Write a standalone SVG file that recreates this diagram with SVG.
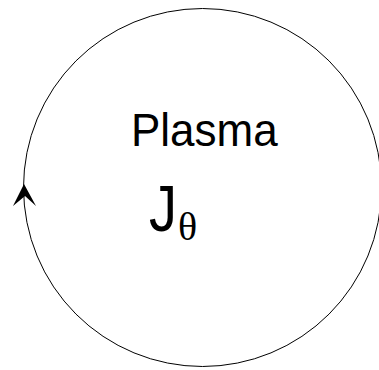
<svg xmlns="http://www.w3.org/2000/svg" width="379" height="370" viewBox="0 0 379 370">
<style>
.txt{font-family:"Liberation Sans",Arial,sans-serif;fill:#000}
.sym{font-family:"Liberation Serif","Times New Roman",serif;fill:#000}
</style>
<rect width="379" height="370" fill="#fff"/>
<g id="connectors">
<circle cx="202.5" cy="187.5" r="179" fill="none" stroke="#000" stroke-width="1"/>
<path d="M24,184 L36,206 L25,196 L13,206 Z" fill="#000"/>
</g>
<g id="plasma">
<text class="txt" x="131" y="146" font-size="44" transform="translate(0,146) scale(1,1.06) translate(0,-146)">Plasma</text>
</g>
<g id="current">
<text class="txt" x="149" y="231" font-size="56" transform="translate(0,231) scale(1,1.15) translate(0,-231)">J</text>
<text class="sym" x="178" y="240" font-size="40">θ</text>
</g>
</svg>
